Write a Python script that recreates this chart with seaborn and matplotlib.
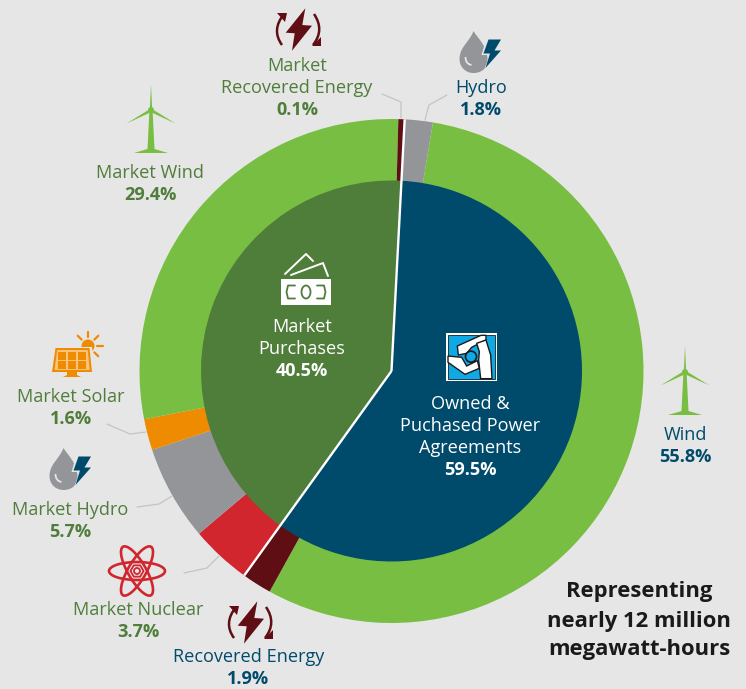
import numpy as np
import seaborn as sns
import matplotlib.pyplot as plt
from matplotlib.patches import PathPatch, Polygon, Ellipse, Circle, Rectangle
from matplotlib.path import Path

# Printed percentages
inner_labels = ['Owned &\nPuchased Power\nAgreements', 'Market\nPurchases']
inner_values = [59.5, 40.5]

outer_labels = ['Hydro', 'Wind', 'Recovered Energy', 'Market Nuclear', 'Market Hydro',
                'Market Solar', 'Market Wind', 'Market\nRecovered Energy']
outer_values = [1.8, 55.8, 1.9, 3.7, 5.7, 1.6, 29.4, 0.1]

# Slice sizes as measured on the picture, the artwork does not follow the printed numbers exactly
inner_drawn = [59.1, 40.9]
outer_drawn = [1.8, 55.4, 1.9, 3.9, 6.1, 2.0, 28.5, 0.4]

BG = '#e6e6e6'
WIND = '#78be43'
FOREST = '#4f7d3a'
NAVY = '#004a6b'
GREY = '#939598'
ORANGE = '#ef8b00'
RED = '#d2262f'
MAROON = '#5f0f14'
LEADER = '#c4c4c4'
outer_colors = [GREY, WIND, MAROON, RED, GREY, ORANGE, WIND, MAROON]
inner_colors = [NAVY, FOREST]

sns.set_theme(style='white')
plt.rcParams['font.family'] = ['Open Sans', 'DejaVu Sans']

W, H = 746, 689
CX, CY = 391.5, 371
R_OUT, R_IN = 252, 190.5
START = 3  # degrees clockwise from 12 o'clock

fig = plt.figure(figsize=(W / 100, H / 100), dpi=100, facecolor=BG)
ax = fig.add_axes([0, 0, 1, 1], facecolor=BG)


def yy(py):
    return H - py


# the two rings
ax.pie(outer_drawn, colors=outer_colors, radius=R_OUT, center=(CX, yy(CY)),
       startangle=90 - START, counterclock=False, normalize=True,
       wedgeprops=dict(linewidth=0))
ax.pie(inner_drawn, colors=inner_colors, radius=R_IN, center=(CX, yy(CY)),
       startangle=90 - START, counterclock=False, normalize=True,
       wedgeprops=dict(linewidth=0))
ax.set_xlim(0, W)
ax.set_ylim(0, H)
ax.set_aspect('equal')
ax.axis('off')

# white dividers between owned and market
for deg in [START, START + inner_drawn[0] * 3.6]:
    a = np.radians(deg)
    ax.plot([CX, CX + R_OUT * np.sin(a)], [yy(CY), yy(CY) + R_OUT * np.cos(a)],
            color='white', lw=1.7, solid_capstyle='butt', zorder=3)

# thin leaders from labels to the ring
leaders = [
    [(382, 94), (401, 102), (401, 118)],
    [(447, 95), (429, 105), (425, 120)],
    [(107, 424), (130, 434), (146, 432)],
    [(137, 507), (159, 504), (172, 496)],
    [(184, 573), (207, 568), (219, 556)],
]
for pts in leaders:
    ax.plot([p[0] for p in pts], [yy(p[1]) for p in pts], color=LEADER, lw=0.9, zorder=2)


def label(x, py, name, value, color, size=13.1):
    # name above, bold value below
    lines = name.split('\n')
    for i, line in enumerate(lines):
        ax.text(x, yy(py + 1 + i * 22), line, color=color, fontsize=size, ha='center', va='center')
    ax.text(x, yy(py + 1 + len(lines) * 22), value, color=color, fontsize=size, fontweight='bold',
            ha='center', va='center')


label(297, 65, outer_labels[7], f'{outer_values[7]}%', FOREST)
label(481, 87, outer_labels[0], f'{outer_values[0]}%', NAVY)
label(150.5, 172, outer_labels[6], f'{outer_values[6]}%', FOREST)
label(71, 396, outer_labels[5], f'{outer_values[5]}%', FOREST)
label(70, 509, outer_labels[4], f'{outer_values[4]}%', FOREST)
label(138.5, 609, outer_labels[3], f'{outer_values[3]}%', FOREST)
label(248.5, 656.5, outer_labels[2], f'{outer_values[2]}%', NAVY)
label(685.5, 434, outer_labels[1], f'{outer_values[1]}%', NAVY)
label(302, 326, inner_labels[1], f'{inner_values[1]}%', 'white')
label(470, 403, inner_labels[0], f'{inner_values[0]}%', 'white')

for i, line in enumerate(['Representing', 'nearly 12 million', 'megawatt-hours']):
    ax.text(639, yy(592 + i * 29), line, color='#1a1a1a', fontsize=15.8, fontweight='bold',
            ha='center', va='center')


def poly(pts, ox, oy, color, z=4):
    ax.add_patch(Polygon([(ox + x, yy(oy + y)) for x, y in pts], closed=True, fc=color, ec='none', zorder=z))


def turbine(ox, oy, color):
    # hub at ox, oy
    poly([(-1.2, 0), (0, -26), (1.2, 0)], ox, oy, color)
    poly([(-1, -1), (-24.5, 13.5), (0.5, 2)], ox, oy, color)
    poly([(1, -1), (24.5, 13.5), (-0.5, 2)], ox, oy, color)
    poly([(-1.7, 3), (1.7, 3), (3.5, 39), (17, 43), (-17, 43), (-3.5, 39)], ox, oy, color)
    ax.add_patch(Circle((ox, yy(oy)), 3, fc=color, ec='none', zorder=4))


def bolt_loop(ox, oy):
    poly([(7.3, -21.7), (-12.3, 2.7), (-3.3, 3.3), (-6, 20.7), (14, -4.3), (4.3, -5)], ox, oy, MAROON)
    for (p0, p1, p2) in [((-14, -16), (-27, 0), (-16, 15)), ((16, -16), (27, 0), (15, 15))]:
        verts = [(ox + p[0], yy(oy + p[1])) for p in (p0, p1, p2)]
        ax.add_patch(PathPatch(Path(verts, [Path.MOVETO, Path.CURVE3, Path.CURVE3]), fc='none',
                               ec=MAROON, lw=1.8, zorder=4))
    poly([(-21, -17), (-11, -17), (-13, -8)], ox, oy, MAROON)
    poly([(14, 16), (23, 16), (23, 7)], ox, oy, MAROON)


def drop_bolt(ox, oy):
    # drop drawn with beziers, origin near its centre
    pts = [(0, -21), (4, -14), (14, -6), (14, 8), (14, 18), (6, 21), (0, 21),
           (-8, 21), (-14, 15), (-14, 7), (-14, -5), (-4, -10), (0, -21)]
    codes = [Path.MOVETO] + [Path.CURVE4] * 12
    ax.add_patch(PathPatch(Path([(ox + x, yy(oy + y)) for x, y in pts], codes), fc=GREY, ec='none', zorder=4))
    shine = [(ox - 8, yy(oy + 5)), (ox - 8, yy(oy + 12)), (ox - 2, yy(oy + 13))]
    ax.add_patch(PathPatch(Path(shine, [Path.MOVETO, Path.CURVE3, Path.CURVE3]), fc='none', ec=BG, lw=1.3, zorder=5))
    poly([(13, -14), (28, -14), (22, -2), (28, -2), (11, 17), (16, 3), (8, 3)], ox, oy, BG, z=5)
    poly([(15, -12.5), (27.5, -12.5), (21, -1.5), (27.5, -1.5), (12, 16), (16.5, 1.5), (10, 1.5)], ox, oy, NAVY, z=6)


def solar(ox, oy):
    # sun sits behind the panel
    ax.add_patch(Circle((ox + 16, yy(oy - 14)), 6.5, fc=ORANGE, ec='none', zorder=3))
    for deg in [-90, -45, -135, 0, 45]:
        a = np.radians(deg)
        ax.plot([ox + 16 + 9 * np.cos(a), ox + 16 + 14.5 * np.cos(a)],
                [yy(oy - 14 + 9 * np.sin(a)), yy(oy - 14 + 14.5 * np.sin(a))], color=ORANGE, lw=1.6, zorder=3)
    poly([(-22, 13), (-18, -13), (20, -13), (23, 13)], ox, oy, BG, z=4)
    poly([(-20, 12), (-16.5, -12), (17.5, -12), (20, 12)], ox, oy, ORANGE, z=4)
    poly([(-17.5, 10), (-14.8, -10), (15.8, -10), (17.7, 10)], ox, oy, '#f7c37a', z=5)
    for r in range(2):
        for c in range(3):
            x0 = -14.5 + c * 10
            y0 = -8.5 + r * 9.2
            poly([(x0, y0), (x0 + 8.8, y0), (x0 + 8.8, y0 + 8), (x0, y0 + 8)], ox, oy, ORANGE, z=6)
    poly([(-5, 12), (5, 12), (5, 15), (9, 17), (-9, 17), (-5, 15)], ox, oy, ORANGE)


def atom(ox, oy):
    for ang in [0, 60, -60]:
        ax.add_patch(Ellipse((ox, yy(oy)), 56, 18, angle=ang, fc='none', ec=RED, lw=1.9, zorder=4))
    hexagon = [(6.5 * np.cos(np.radians(t)), 6.5 * np.sin(np.radians(t))) for t in range(0, 360, 60)]
    ax.add_patch(Polygon([(ox + x, yy(oy + y)) for x, y in hexagon], closed=True, fc='none', ec=RED, lw=1.3, zorder=4))
    ax.add_patch(Circle((ox, yy(oy)), 3, fc='none', ec=RED, lw=1.3, zorder=4))


def money(ox, oy):
    ax.add_patch(Rectangle((ox, yy(oy + 26)), 50, 26, fc='white', ec='none', zorder=4))
    ax.add_patch(Ellipse((ox + 25, yy(oy + 13)), 9, 13, fc='none', ec=FOREST, lw=1.3, zorder=5))
    for pts in [[(14, 6.5), (7, 6.5), (5.5, 13), (7, 19.5), (14, 19.5)], [(36, 6.5), (43, 6.5), (44.5, 13), (43, 19.5), (36, 19.5)]]:
        ax.plot([ox + p[0] for p in pts], [yy(oy + p[1]) for p in pts], color=FOREST, lw=1.3, zorder=5)
    for pts in [[(4, -5), (25, -25), (32, -18)], [(10, -4), (42, -16), (47, -3)]]:
        ax.plot([ox + p[0] for p in pts], [yy(oy + p[1]) for p in pts], color='white', lw=1.4, zorder=5)


def logo():
    # outline traced at 3x from the crop that starts at (250, 240)
    def z(pts):
        return [(250 + x / 3, yy(240 + y / 3)) for x, y in pts]
    ax.add_patch(Polygon(z([(588, 280), (740, 280), (740, 422), (588, 422)]), closed=True, fc='white', ec='none', zorder=4))
    ax.add_patch(Polygon(z([(594, 286), (734, 286), (734, 416), (594, 416)]), closed=True, fc='#0fa9e6', ec='#1a1a1a', lw=0.6, zorder=5))
    arms = [
        [(622, 318), (693, 286), (708, 286), (708, 300), (665, 322), (650, 340), (625, 345)],
        [(594, 348), (635, 352), (650, 378), (682, 362), (688, 385), (645, 403), (594, 367)],
        [(680, 310), (708, 300), (722, 345), (726, 416), (692, 416), (686, 360), (688, 335)],
    ]
    for arm in arms:
        ax.add_patch(Polygon(z(arm), closed=True, fc='white', ec='#1a1a1a', lw=1.0, zorder=6))
    ax.add_patch(Circle(z([(663, 350)])[0], 5.5, fc='#0fa9e6', ec='#1a1a1a', lw=1.2, zorder=7))


turbine(685, 372, WIND)
turbine(151, 110, WIND)
bolt_loop(298, 30)
bolt_loop(250, 623)
drop_bolt(473.5, 52)
drop_bolt(63.5, 469)
solar(72, 360)
atom(137, 571)
money(281, 279)
logo()

fig.savefig('out.png', dpi=100, facecolor=BG)
